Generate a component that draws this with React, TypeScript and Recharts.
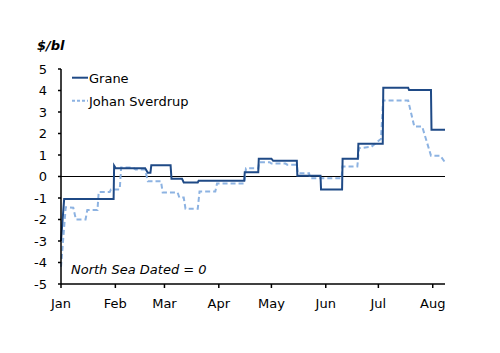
import { LineChart, Line, XAxis, YAxis, ReferenceLine } from "recharts";

// day of year (0 = 1 Jan) and differential to North Sea Dated, $/bl
const graneDays = [
  0, 1.8, 30, 30.3, 31.2, 48, 49.5, 51, 51.5, 62.5, 63, 69, 70, 78, 78.5,
  104.5, 104.8, 112.5, 112.8, 120, 121, 134.5, 134.8, 148, 148.3, 160.3,
  160.6, 169.3, 169.6, 183.5, 183.8, 198, 198.5, 211, 211.3, 219,
];
const graneValues = [
  -3.0, -1.05, -1.05, 0.5, 0.38, 0.38, 0.17, 0.17, 0.52, 0.52, -0.1, -0.1,
  -0.28, -0.28, -0.2, -0.2, 0.2, 0.2, 0.83, 0.83, 0.73, 0.73, 0.03, 0.03,
  -0.6, -0.6, 0.82, 0.82, 1.52, 1.52, 4.13, 4.13, 4.02, 4.02, 2.18, 2.18,
];

const sverdrupDays = [
  0, 2.7, 7, 8.5, 14, 15, 20.8, 21.5, 27.8, 28.5, 33.5, 34.3, 41, 42.5, 48,
  49.5, 57, 58, 66.5, 67.5, 70, 71, 78, 79, 88, 89, 104.5, 105.5, 112.5, 113,
  119, 120, 128, 129, 134.5, 135, 141.5, 142, 160, 160.5, 169, 170, 177,
  182.5, 183.7, 198, 201.5, 206, 211, 216.3, 219,
];
const sverdrupValues = [
  -4.2, -1.43, -1.45, -2.0, -2.0, -1.56, -1.56, -0.72, -0.72, -0.6, -0.6,
  0.42, 0.42, 0.32, 0.32, -0.22, -0.22, -0.74, -0.74, -0.98, -0.98, -1.5,
  -1.5, -0.7, -0.7, -0.32, -0.32, 0.38, 0.38, 0.66, 0.66, 0.6, 0.6, 0.55,
  0.55, 0.15, 0.15, -0.08, -0.08, 0.46, 0.46, 1.32, 1.38, 1.75, 3.53, 3.53,
  2.32, 2.32, 0.97, 0.97, 0.66,
];

const monthTicks = [0, 31, 59, 90, 120, 151, 181, 212];
const monthLabels = ["Jan", "Feb", "Mar", "Apr", "May", "Jun", "Jul", "Aug"];
const yTicks = [-5, -4, -3, -2, -1, 0, 1, 2, 3, 4, 5];

const graneData = graneDays.map((day, i) => ({ day, value: graneValues[i] }));
const sverdrupData = sverdrupDays.map((day, i) => ({
  day,
  value: sverdrupValues[i],
}));

const FONT = "'DejaVu Sans', sans-serif";
const GRANE = "#1F4A86";
const SVERDRUP = "#8DB3E2";

export default function App() {
  const tick = { fill: "#000", fontSize: 13, fontFamily: FONT };
  return (
    <div style={{ position: "relative", width: 484, height: 337 }}>
      <LineChart
        width={484}
        height={337}
        margin={{ top: 61, right: 47, bottom: 31, left: 13 }}
      >
        <XAxis
          type="number"
          dataKey="day"
          domain={[0, 219]}
          ticks={monthTicks}
          tickFormatter={(d: number) => monthLabels[monthTicks.indexOf(d)]}
          allowDuplicatedCategory={false}
          tick={tick}
          tickSize={4}
          tickMargin={11}
          height={30}
          axisLine={{ stroke: "#000", strokeWidth: 1.5 }}
          tickLine={{ stroke: "#000", strokeWidth: 1.5 }}
        />
        <YAxis
          type="number"
          domain={[-5, 5]}
          ticks={yTicks}
          width={40}
          tick={tick}
          tickSize={3}
          tickMargin={11}
          axisLine={{ stroke: "#000", strokeWidth: 1.5 }}
          tickLine={{ stroke: "#000", strokeWidth: 1.5 }}
        />
        <ReferenceLine y={0} stroke="#000" strokeWidth={1.2} />
        <Line
          data={sverdrupData}
          dataKey="value"
          type="linear"
          stroke={SVERDRUP}
          strokeWidth={2}
          strokeDasharray="5 3"
          dot={false}
          isAnimationActive={false}
        />
        <Line
          data={graneData}
          dataKey="value"
          type="linear"
          stroke={GRANE}
          strokeWidth={2}
          dot={false}
          isAnimationActive={false}
        />
      </LineChart>
      <svg
        width={484}
        height={337}
        style={{ position: "absolute", left: 0, top: 0, pointerEvents: "none" }}
        fontFamily={FONT}
      >
        <text x={29} y={42} fontSize={13} fontWeight="bold" fontStyle="italic">
          $/bl
        </text>
        <line x1={64} x2={80} y1={69.7} y2={69.7} stroke={GRANE} strokeWidth={2} />
        <text x={81} y={75.3} fontSize={13}>
          Grane
        </text>
        <line
          x1={64}
          x2={80}
          y1={92.7}
          y2={92.7}
          stroke={SVERDRUP}
          strokeWidth={2}
          strokeDasharray="3 2"
        />
        <text x={81} y={98.3} fontSize={13}>
          Johan Sverdrup
        </text>
        <text x={63} y={266.3} fontSize={13} fontStyle="italic">
          North Sea Dated = 0
        </text>
      </svg>
    </div>
  );
}
